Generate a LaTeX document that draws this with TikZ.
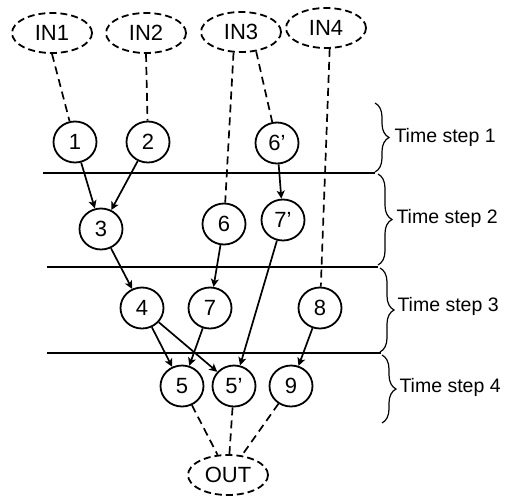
\documentclass[tikz,border=0pt]{standalone}
\usepackage{fontspec}
\setmainfont{Liberation Sans}
\usetikzlibrary{shapes.geometric,arrows.meta,decorations.pathreplacing}
\begin{document}
\begin{tikzpicture}[x=1pt,y=-1pt,
 every node/.style={font=\fontsize{22}{26}\selectfont},
 opnode/.style={ellipse,draw,line width=1.8pt,minimum width=43pt,minimum height=41pt,inner sep=0pt},
 ionode/.style={ellipse,draw,dash pattern=on 7pt off 4pt,line width=1.8pt,minimum width=80pt,minimum height=40pt,inner sep=0pt},
 dep/.style={draw,line width=1.7pt,-{Stealth[length=8pt,width=8pt,inset=2pt]}},
 io/.style={draw,line width=1.7pt,dash pattern=on 8pt off 5pt},
 sepline/.style={draw,line width=2pt},
 brc/.style={draw,line width=1.2pt,decorate,decoration={brace,amplitude=14pt}},
 lbl/.style={anchor=west,font=\fontsize{19.5}{23}\selectfont}
]
\useasboundingbox (0,0) rectangle (505,496);
% input / output nodes
\node[ionode] (IN1) at (52,33) {IN1};
\node[ionode] (IN2) at (146,33) {IN2};
\node[ionode] (IN3) at (241,32) {IN3};
\node[ionode] (IN4) at (326,28) {IN4};
\node[ionode] (OUT) at (228,475) {OUT};
% operation nodes
\node[opnode] (n1) at (75,142) {1};
\node[opnode] (n2) at (148,142) {2};
\node[opnode] (n6p) at (277,143) {6’};
\node[opnode] (n3) at (101,229) {3};
\node[opnode] (n6) at (224,224) {6};
\node[opnode] (n7p) at (283,220) {7’};
\node[opnode] (n4) at (142,308) {4};
\node[opnode] (n7) at (210,308) {7};
\node[opnode] (n8) at (320,308) {8};
\node[opnode] (n5) at (182,386) {5};
\node[opnode] (n5p) at (234,386) {5’};
\node[opnode] (n9) at (291,386) {9};
% separators
\coordinate (l1a) at (43,173); \coordinate (l1b) at (375,173);
\coordinate (l2a) at (47,267); \coordinate (l2b) at (378,267);
\coordinate (l3a) at (47,353); \coordinate (l3b) at (381,353);
\path[sepline] (l1a) -- (l1b);
\path[sepline] (l2a) -- (l2b);
\path[sepline] (l3a) -- (l3b);
% braces
\coordinate (b1a) at (375,103); \coordinate (b1b) at (375,172);
\coordinate (b2a) at (378,174); \coordinate (b2b) at (378,265);
\coordinate (b3a) at (380,268); \coordinate (b3b) at (380,352);
\coordinate (b4a) at (382,355); \coordinate (b4b) at (382,423);
\path[brc] (b1a) -- (b1b);
\path[brc] (b2a) -- (b2b);
\path[brc] (b3a) -- (b3b);
\path[brc] (b4a) -- (b4b);
\node[lbl] (t1) at (391,137) {Time step 1};
\node[lbl] (t2) at (393,218) {Time step 2};
\node[lbl] (t3) at (394,306) {Time step 3};
\node[lbl] (t4) at (396,387) {Time step 4};
% dashed input/output links
\path[io] (IN1.south) -- (n1);
\path[io] (IN2.south) -- (n2);
\path[io] (IN3.-110) -- (n6);
\path[io] (IN3.-52) -- (n6p);
\path[io] (IN4.-80) -- (n8);
\path[io] (n5) -- (OUT);
\path[io] (n5p) -- (OUT);
\path[io] (n9) -- (OUT);
% dependencies
\path[dep] (n1) -- (n3);
\path[dep] (n2) -- (n3);
\path[dep] (n6p) -- (n7p);
\path[dep] (n3) -- (n4);
\path[dep] (n6) -- (n7);
\path[dep] (n7p) -- (n5p);
\path[dep] (n4) -- (n5);
\path[dep] (n4) -- (n5p);
\path[dep] (n7) -- (n5);
\path[dep] (n8) -- (n9);
\end{tikzpicture}
\end{document}
